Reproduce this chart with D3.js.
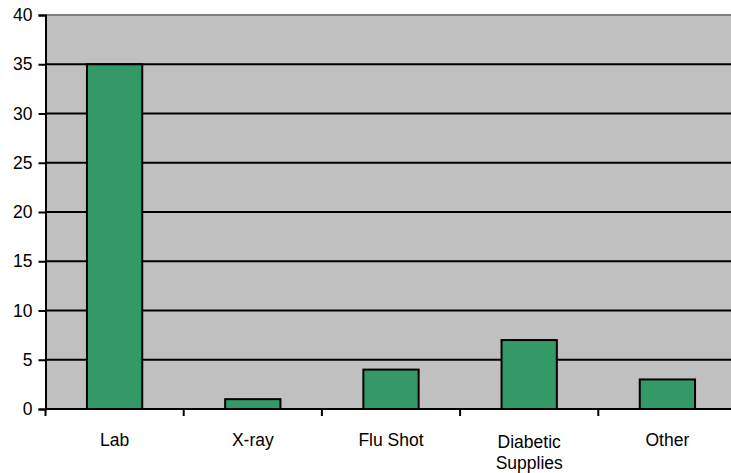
<!DOCTYPE html>
<html><head><meta charset="utf-8">
<script src="https://cdn.jsdelivr.net/npm/d3@7"></script>
<style>body{margin:0;background:#fff}svg{display:block}text{font-family:"Liberation Sans",Arial,sans-serif;font-size:17.5px;fill:#000}</style>
</head><body><svg id="c" width="731" height="473"></svg>
<script>
const categories = ["Lab", "X-ray", "Flu Shot", "Diabetic\nSupplies", "Other"];
const values = [35, 1, 4, 7, 3];
const yTicks = [0, 5, 10, 15, 20, 25, 30, 35, 40];

const svg = d3.select("#c");
const m = {left: 45.5, top: 15, bottom: 409, right: 736.5};
const x = d3.scaleBand().domain(categories).range([m.left, m.right]).paddingInner(0).paddingOuter(0);
const y = d3.scaleLinear().domain([0, 40]).range([m.bottom, m.top]);

svg.append("rect").attr("x", m.left).attr("y", m.top).attr("width", m.right - m.left).attr("height", m.bottom - m.top).attr("fill", "#C0C0C0");
svg.append("line").attr("x1", m.left).attr("x2", m.right).attr("y1", m.top).attr("y2", m.top).attr("stroke", "#808080").attr("stroke-width", 2);

svg.append("g").selectAll("line").data(yTicks.filter(d => d > 0 && d < 40)).join("line")
  .attr("x1", m.left).attr("x2", m.right).attr("y1", d => y(d)).attr("y2", d => y(d))
  .attr("stroke", "#000").attr("stroke-width", 1.8);

const bw = x.bandwidth() * 0.4;
svg.append("g").selectAll("rect").data(values).join("rect")
  .attr("x", (d, i) => x(categories[i]) + x.bandwidth() / 2 - bw / 2)
  .attr("width", bw)
  .attr("y", d => y(d))
  .attr("height", d => y(0) - y(d))
  .attr("fill", "#339966").attr("stroke", "#000").attr("stroke-width", 2);

// Y axis
const ya = svg.append("g").attr("transform", `translate(${m.left},0)`)
  .call(d3.axisLeft(y).tickValues(yTicks).tickSize(7).tickPadding(6));
ya.attr("font-size", null).attr("font-family", null);
ya.select(".domain").attr("stroke", "#000").attr("stroke-width", 2);
ya.selectAll(".tick line").attr("stroke", "#000").attr("stroke-width", 2);
ya.selectAll("text").attr("fill", "#000");

// X axis
const xa = svg.append("g").attr("transform", `translate(0,${m.bottom})`);
xa.append("line").attr("x1", m.left).attr("x2", m.right).attr("stroke", "#000").attr("stroke-width", 2);
xa.selectAll("line.t").data(categories).join("line").attr("class", "t")
  .attr("x1", d => x(d)).attr("x2", d => x(d)).attr("y1", 0).attr("y2", 7)
  .attr("stroke", "#000").attr("stroke-width", 2);
xa.selectAll("text").data(categories).join("text")
  .attr("text-anchor", "middle")
  .attr("transform", d => `translate(${x(d) + x.bandwidth() / 2},${d.includes("\n") ? 39 : 37})`)
  .each(function(d) {
    d.split("\n").forEach((s, i) => d3.select(this).append("tspan").attr("x", 0).attr("dy", i ? 21 : 0).text(s));
  });
</script></body></html>
